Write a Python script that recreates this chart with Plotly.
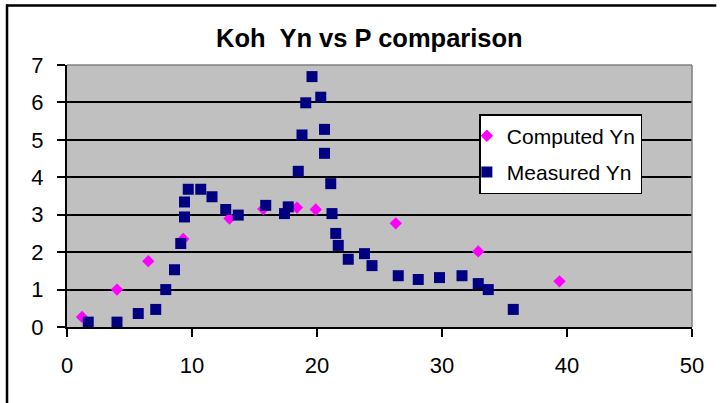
import plotly.graph_objects as go

# P values and Yn for the computed series
computed_p = [1.2, 4.0, 6.5, 9.3, 13.0, 15.7, 18.4, 19.9, 26.3, 32.9, 39.4]
computed_yn = [0.27, 1.0, 1.76, 2.35, 2.9, 3.15, 3.19, 3.14, 2.77, 2.02, 1.22]

# P values and Yn for the measured series
measured_p = [1.7, 4.0, 5.7, 7.1, 7.9, 8.6, 9.1, 9.4, 9.4, 9.7, 10.7, 11.6, 12.7,
              13.7, 15.9, 17.4, 17.7, 18.5, 18.8, 19.1, 19.6, 20.3, 20.6, 20.6,
              21.1, 21.2, 21.5, 21.7, 22.5, 23.8, 24.4, 26.5, 28.1, 29.8, 31.6,
              32.9, 33.7, 35.7]
measured_yn = [0.13, 0.13, 0.36, 0.47, 1.0, 1.53, 2.23, 2.94, 3.34, 3.68, 3.68,
               3.48, 3.14, 2.99, 3.25, 3.03, 3.21, 4.16, 5.13, 5.99, 6.69, 6.14,
               5.28, 4.64, 3.83, 3.03, 2.50, 2.18, 1.81, 1.96, 1.64, 1.37, 1.27,
               1.32, 1.37, 1.16, 1.0, 0.47]

x_ticks = [0, 10, 20, 30, 40, 50]
y_ticks = [0, 1, 2, 3, 4, 5, 6, 7]

W, H = 721, 403
L, R, T, B = 66.5, 29.3, 65, 76.3
pw, ph = W - L - R, H - T - B


def px(x):
    return (x - L) / pw


def py(y):
    return (H - B - y) / ph


FONT = "Liberation Sans, Arial, sans-serif"

fig = go.Figure()
fig.add_trace(go.Scatter(
    x=computed_p, y=computed_yn, mode="markers", name="Computed Yn",
    legendgroup="c",
    marker=dict(symbol="diamond", size=9.5, color="#FF00FF",
                line=dict(width=0)),
))
fig.add_trace(go.Scatter(
    x=measured_p, y=measured_yn, mode="markers", name="Measured Yn",
    legendgroup="m",
    marker=dict(symbol="square", size=11, color="#000080",
                line=dict(width=0)),
))

fig.update_layout(
    width=W, height=H,
    margin=dict(l=L, r=R, t=T, b=B, pad=0, autoexpand=False),
    paper_bgcolor="white",
    plot_bgcolor="#C0C0C0",
    title=dict(text="<b>Koh  Yn vs P comparison</b>", xref="paper",
               x=px(369), xanchor="center", yref="container",
               y=1 - 38 / H, yanchor="middle",
               font=dict(family=FONT, size=25.5, color="black")),
    showlegend=True,
    legend=dict(x=px(479), y=py(114), xanchor="left", yanchor="top",
                bgcolor="white", bordercolor="black", borderwidth=1.5,
                font=dict(family=FONT, size=21, color="black"),
                tracegroupgap=6, indentation=-14, itemwidth=30),
    xaxis=dict(range=[0, 50], tickvals=x_ticks, showgrid=False,
               zeroline=False, showline=True, linecolor="black", linewidth=2,
               ticks="outside", ticklen=8, tickwidth=1.5, tickcolor="black",
               ticklabelstandoff=10, automargin=False,
               tickfont=dict(family=FONT, size=22, color="black")),
    yaxis=dict(range=[0, 7], tickvals=y_ticks, showgrid=True,
               gridcolor="black", gridwidth=1.5, zeroline=False,
               showline=True, linecolor="black", linewidth=2,
               ticks="outside", ticklen=8, tickwidth=1.5, tickcolor="black",
               ticklabelstandoff=9, automargin=False,
               tickfont=dict(family=FONT, size=22, color="black")),
)

# chart frame along the top edge, placed in pixels above the plot top
fig.add_shape(type="line", xref="paper", yref="paper",
              ysizemode="pixel", yanchor=1, y0=T - 5.5, y1=T - 5.5,
              x0=px(5.5), x1=px(716),
              line=dict(color="black", width=2.5), layer="above")
# chart frame along the left edge
fig.add_shape(type="line", xref="paper", yref="paper",
              x0=px(6.5), x1=px(6.5), y0=py(4.5), y1=py(H),
              line=dict(color="black", width=2.5))

# gray plot-area edge on top and right
fig.add_shape(type="line", xref="paper", yref="paper", x0=0, x1=1, y0=1, y1=1,
              line=dict(color="#808080", width=1.5), layer="above")
fig.add_shape(type="line", xref="paper", yref="paper", x0=1, x1=1, y0=0, y1=1,
              line=dict(color="#808080", width=1.5), layer="above")

fig.write_html("out.html")
